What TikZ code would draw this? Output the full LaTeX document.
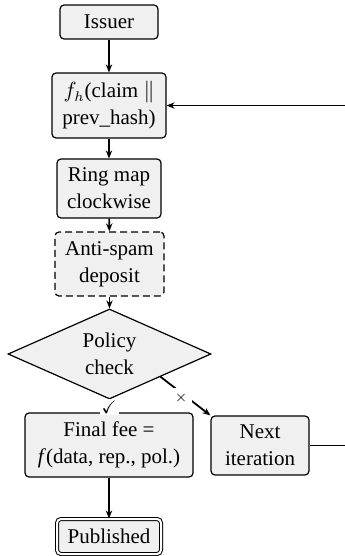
\documentclass[tikz,border=0pt]{standalone}
\usepackage{amssymb}
\usepackage{fontspec}
\setmainfont{Liberation Serif}
\usetikzlibrary{shapes.geometric,arrows.meta}
\begin{document}
\begin{tikzpicture}[x=0.5pt,y=-0.5pt,
  font=\fontsize{10.5}{13.5}\selectfont,
  box/.style={draw, rounded corners=2pt, fill=black!6, line width=0.6pt, align=center, inner sep=0pt},
  dashbox/.style={box, dash pattern=on 3.5pt off 2pt},
  conn/.style={line width=0.9pt, -{Stealth[length=4pt,width=3.2pt]}},
  lab/.style={fill=white, inner sep=1pt}]
\useasboundingbox (0,0) rectangle (344,556);
\node[box, minimum width=49pt, minimum height=17pt] (issuer) at (109,22) {Issuer};
\node[box, minimum width=57pt, minimum height=32.5pt] (fh) at (109,105.5) {$f_h$(claim $\|$\\prev\_hash)};
\node[box, minimum width=52pt, minimum height=29.5pt] (ring) at (109,188.5) {Ring map\\clockwise};
\node[dashbox, minimum width=54.5pt, minimum height=32pt] (spam) at (109.5,264) {Anti-spam\\deposit};
\node[draw, diamond, fill=black!6, line width=0.6pt, align=center, inner sep=0pt, aspect=2.25,
      minimum width=101.5pt, minimum height=45pt] (policy) at (109.5,354) {Policy\\check};
\node[box, minimum width=84pt, minimum height=32pt] (fee) at (109,445) {Final fee =\\\textit{f}(data, rep., pol.)};
\node[box, minimum width=49pt, minimum height=29.5pt] (next) at (260,445.5) {Next\\iteration};
\node[box, double, double distance=1pt, line width=0.5pt, minimum width=52pt, minimum height=17.5pt] (pub) at (109,536.5) {Published};

\draw[conn] (issuer) -- (fh);
\draw[conn] (fh) -- (ring);
\draw[conn] (ring) -- (spam);
\draw[conn] (spam) -- (policy);
\draw[conn] (policy.south) -- (fee.north);
\draw[conn] (policy.south east) -- (next.north west);
\draw[conn] (fee) -- (pub);
\draw[conn] (next.east) -- ++(25pt,0) |- (fh.east);
\node[lab, font=\small] (ok) at (109,407) {\checkmark};
\node[lab, font=\scriptsize, inner sep=2.5pt] (no) at (181,398) {$\times$};
\end{tikzpicture}
\end{document}
